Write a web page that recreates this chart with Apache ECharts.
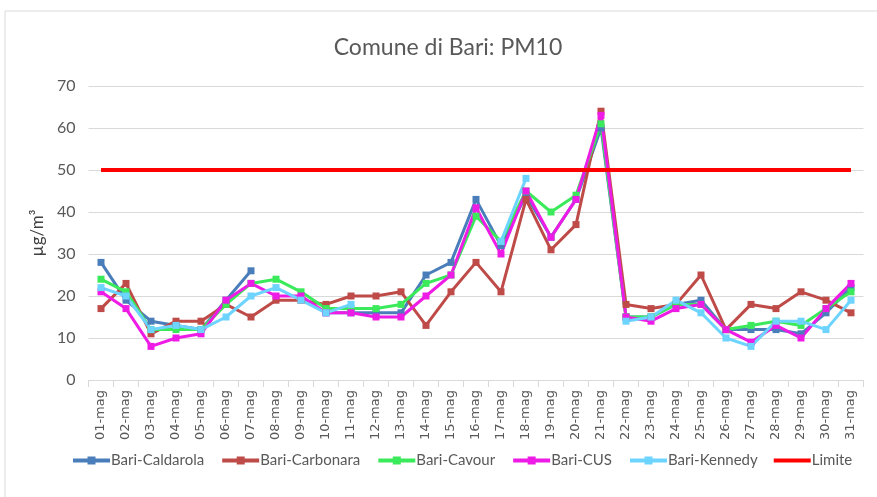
<!DOCTYPE html>
<html>
<head>
<meta charset="utf-8">
<script src="https://cdn.jsdelivr.net/npm/echarts@6/dist/echarts.min.js"></script>
<style>
  html, body { margin: 0; padding: 0; background: #fff; }
  #chart { width: 877px; height: 497px; }
</style>
</head>
<body>
<div id="chart"></div>
<script>
// giorni di maggio
const days = ['01-mag', '02-mag', '03-mag', '04-mag', '05-mag', '06-mag', '07-mag', '08-mag', '09-mag', '10-mag',
  '11-mag', '12-mag', '13-mag', '14-mag', '15-mag', '16-mag', '17-mag', '18-mag', '19-mag', '20-mag',
  '21-mag', '22-mag', '23-mag', '24-mag', '25-mag', '26-mag', '27-mag', '28-mag', '29-mag', '30-mag', '31-mag']

const caldarola = [28, 19, 14, 13, 12, 19, 26, null, null, 16, 16, 16, 16, 25, 28, 43, 32, 44, 34, 43, 60, 15, 15, 18, 19, 12, 12, 12, 11, 16, 22]
const carbonara = [17, 23, 11, 14, 14, 18, 15, 19, 19, 18, 20, 20, 21, 13, 21, 28, 21, 43, 31, 37, 64, 18, 17, 18, 25, 12, 18, 17, 21, 19, 16]
const cavour = [24, 21, 12, 12, 12, 18, 23, 24, 21, 17, 17, 17, 18, 23, 25, 39, 33, 45, 40, 44, 61, 15, 15, 18, 18, 12, 13, 14, 13, 17, 21]
const cus = [21, 17, 8, 10, 11, 19, 23, 20, 20, 16, 16, 15, 15, 20, 25, 41, 30, 45, 34, 43, 63, 15, 14, 17, 18, 12, 9, 13, 10, 17, 23]
const kennedy = [22, 20, 12, 13, 12, 15, 20, 22, 19, 16, 18, null, null, null, null, null, 33, 48, null, null, null, 14, 15, 19, 16, 10, 8, 14, 14, 12, 19]
const limite = [50, 50, 50, 50, 50, 50, 50, 50, 50, 50, 50, 50, 50, 50, 50, 50, 50, 50, 50, 50, 50, 50, 50, 50, 50, 50, 50, 50, 50, 50, 50]

const yTicks = [0, 10, 20, 30, 40, 50, 60, 70]

const colors = {
  caldarola: '#4A7EBB',
  carbonara: '#BE4B48',
  cavour: '#3BEA5A',
  cus: '#EE1BE6',
  kennedy: '#6DD3FF',
  limite: '#FF0000'
}

function stationSeries (name, data, color) {
  return {
    name: name,
    type: 'line',
    data: data,
    symbol: 'rect',
    symbolSize: 7,
    connectNulls: false,
    itemStyle: { color: color },
    lineStyle: { color: color, width: 3 },
    emphasis: { disabled: true }
  }
}

const myChart = echarts.init(document.getElementById('chart'))
const option = {
  animation: false,
  backgroundColor: '#fff',
  textStyle: { fontFamily: 'Lato' },
  graphic: [
    {
      type: 'rect',
      shape: { x: 5, y: 11, width: 880, height: 500 },
      style: { fill: 'none', stroke: '#D9D9D9', lineWidth: 1 },
      silent: true
    }
  ],
  title: {
    text: 'Comune di Bari: PM10',
    left: 443,
    textAlign: 'center',
    top: 31,
    textStyle: { fontFamily: 'Lato', fontSize: 23, fontWeight: 'normal', color: '#595959' }
  },
  grid: {
    left: 88.5,
    right: 13.5,
    top: 86,
    bottom: 117,
    containLabel: false
  },
  legend: {
    left: 66,
    top: 448,
    itemWidth: 37,
    itemHeight: 10,
    itemGap: 16,
    lineStyle: { width: 4 },
    textStyle: { fontFamily: 'Lato', fontSize: 15, color: '#595959', padding: [0, 0, 0, -4] },
    data: [
      'Bari-Caldarola', 'Bari-Carbonara', 'Bari-Cavour', 'Bari-CUS', 'Bari-Kennedy',
      { name: 'Limite', icon: 'path://M0,0 L37,0 L37,4 L0,4 Z', itemStyle: { color: colors.limite } }
    ]
  },
  xAxis: {
    type: 'category',
    data: days,
    boundaryGap: true,
    axisLine: { lineStyle: { color: '#D9D9D9', width: 1 } },
    axisTick: { show: true, alignWithLabel: false, length: 7, lineStyle: { color: '#D9D9D9' } },
    axisLabel: {
      rotate: 90,
      interval: 0,
      margin: 10,
      fontFamily: 'DejaVu Sans',
      fontSize: 13,
      color: '#595959'
    },
    splitLine: { show: false }
  },
  yAxis: {
    type: 'value',
    min: yTicks[0],
    max: yTicks[yTicks.length - 1],
    interval: 10,
    name: 'µg/m³',
    nameLocation: 'middle',
    nameGap: 36,
    nameRotate: 90,
    nameTextStyle: { fontFamily: 'Lato', fontSize: 17, color: '#404040' },
    axisLine: { show: false },
    axisTick: { show: false },
    axisLabel: { margin: 13, fontFamily: 'Lato', fontSize: 16, color: '#595959' },
    splitLine: { lineStyle: { color: '#D9D9D9', width: 1 } }
  },
  series: [
    stationSeries('Bari-Caldarola', caldarola, colors.caldarola),
    stationSeries('Bari-Carbonara', carbonara, colors.carbonara),
    stationSeries('Bari-Cavour', cavour, colors.cavour),
    stationSeries('Bari-CUS', cus, colors.cus),
    stationSeries('Bari-Kennedy', kennedy, colors.kennedy),
    {
      name: 'Limite',
      type: 'line',
      data: limite,
      symbol: 'none',
      itemStyle: { color: colors.limite },
      lineStyle: { color: colors.limite, width: 4 },
      emphasis: { disabled: true }
    }
  ]
}
myChart.setOption(option)
</script>
</body>
</html>
